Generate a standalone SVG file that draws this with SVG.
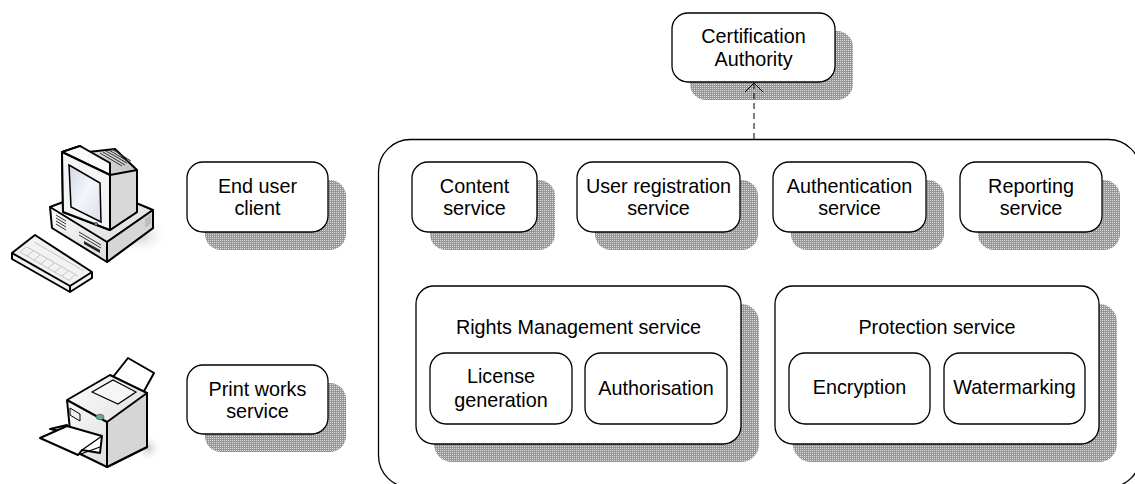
<svg xmlns="http://www.w3.org/2000/svg" width="1135" height="484" viewBox="0 0 1135 484">
  <defs>
    <!-- halftone fill used for drop shadows -->
    <pattern id="dots" width="2" height="2" patternUnits="userSpaceOnUse">
      <rect width="2" height="2" fill="#969696"/>
      <rect width="1" height="1" fill="#e0e0e0"/>
    </pattern>
    <!-- open "V" arrowhead, tip on the path end -->
    <marker id="openArrow" viewBox="0 0 20 20" refX="10" refY="10" markerWidth="20" markerHeight="20" markerUnits="userSpaceOnUse" orient="auto">
      <polyline points="1,1 10,10 1,19" fill="none" stroke="#000" stroke-width="1"/>
    </marker>
    <linearGradient id="bodyGrad" x1="0" y1="0" x2="1" y2="1">
      <stop offset="0" stop-color="#ffffff"/>
      <stop offset="1" stop-color="#d4d4d4"/>
    </linearGradient>
    <linearGradient id="sideGrad" x1="0" y1="0" x2="1" y2="0">
      <stop offset="0" stop-color="#e8e8e8"/>
      <stop offset="1" stop-color="#c4c4c4"/>
    </linearGradient>
    <linearGradient id="screenGrad" x1="0" y1="0" x2="1" y2="1">
      <stop offset="0" stop-color="#cfd6e6"/>
      <stop offset="0.5" stop-color="#f4f6fa"/>
      <stop offset="1" stop-color="#d8deea"/>
    </linearGradient>
    <radialGradient id="floorShadow">
      <stop offset="0" stop-color="#c8c8c8"/>
      <stop offset="1" stop-color="#ffffff" stop-opacity="0"/>
    </radialGradient>
  </defs>
  <style>
    .box { fill: #fff; stroke: #000; stroke-width: 1.3; }
    .shadow { fill: url(#dots); }
    .lbl { font-family: "Liberation Sans", Arial, sans-serif; font-size: 19.8px; fill: #000; text-anchor: middle; }
    .ico { stroke: #000; stroke-width: 2; stroke-linejoin: round; }
  </style>

  <rect width="1135" height="484" fill="#fff"/>

  <!-- workstation icon -->
  <g id="computer">
    <ellipse cx="140" cy="235" rx="28" ry="20" fill="url(#floorShadow)"/>
    <!-- keyboard -->
    <path class="ico" d="M12,253 L35,235 L92,272 L92,278 L70,292 L12,259 Z" fill="#f2f2f2"/>
    <path class="ico" d="M12,253 L70,286 L92,272 M70,286 L70,292" fill="none"/>
    <g stroke="#b8b8b8" stroke-width="0.8" fill="none">
      <path d="M20,252 L70,281 M27,247 L78,276 M34,242 L84,271"/>
      <path d="M26,247 L20,252 M33,251 L27,256 M40,255 L34,260 M47,259 L41,264 M54,263 L48,268 M61,267 L55,272 M68,271 L62,276 M75,275 L69,280"/>
    </g>
    <!-- base unit -->
    <path class="ico" d="M50,207 L100,188 L153,210 L153,228 L107,262 L52,228 Z" fill="url(#bodyGrad)"/>
    <path class="ico" d="M50,207 L107,242 L153,210 M107,242 L107,262" fill="none"/>
    <path d="M107,242 L153,210 L153,228 L107,262 Z" fill="#d6d6d6" stroke="#000" stroke-width="2" stroke-linejoin="round"/>
    <g stroke="#333" stroke-width="1">
      <path d="M56,215 L66,221 M56,218 L66,224 M56,221 L66,227 M56,224 L66,230"/>
      <path d="M79,232 L101,245 M79,235 L101,248"/>
    </g>
    <path d="M84,241 L100,250 L100,253 L84,244 Z" fill="#222"/>
    <path d="M146,218 L146,227 M148,217 L148,226 M150,215 L150,224" stroke="#999" stroke-width="0.8"/>
    <!-- monitor housing -->
    <path class="ico" d="M62,152 L80,146 L88,152 L115,149 L137,170 L137,212 L110,230 L63,212 Z" fill="url(#sideGrad)"/>
    <path class="ico" d="M62,152 L80,146 L110,163 L110,175 Z" fill="#fafafa"/>
    <path d="M110,175 L137,170 L137,212 L110,230 Z" fill="#d8d8d8" stroke="#000" stroke-width="2" stroke-linejoin="round"/>
    <g stroke="#333" stroke-width="1">
      <path d="M100,153 L122,166 M103,152 L125,165 M106,151 L127,163 M109,150 L129,162 M112,149 L131,161"/>
    </g>
    <!-- bezel and screen -->
    <path class="ico" d="M62,152 L110,175 L110,230 L63,212 Z" fill="#f4f4f4"/>
    <path d="M69,165 L100,183 L101,222 L71,207 Z" fill="url(#screenGrad)" stroke="#000" stroke-width="1.5"/>
    <circle cx="96" cy="224" r="1.6" fill="#6a9" stroke="#000" stroke-width="0.6"/>
  </g>

  <!-- printer icon -->
  <g id="printer">
    <ellipse cx="148" cy="448" rx="14" ry="14" fill="url(#floorShadow)"/>
    <!-- paper on top -->
    <path class="ico" d="M113,377 L128,358 L154,373 L138,402 Z" fill="#fff"/>
    <!-- body -->
    <path class="ico" d="M67,400 L110,375 L147,393 L147,447 L107,467 L72,450 Z" fill="url(#bodyGrad)"/>
    <path d="M107,422 L147,393 L147,447 L107,467 Z" fill="#d6d6d6" stroke="#000" stroke-width="2" stroke-linejoin="round"/>
    <path class="ico" d="M67,400 L107,422 L107,467" fill="none"/>
    <path d="M92,392 L113,380 L136,392 L118,404 Z" fill="#f6f6f6" stroke="#000" stroke-width="1.2"/>
    <path d="M70,408 L80,414 L80,421 L70,415 Z" fill="#eee" stroke="#000" stroke-width="1"/>
    <ellipse cx="100" cy="417" rx="4" ry="2.8" fill="#5fb08f" stroke="#444" stroke-width="0.6"/>
    <!-- output tray -->
    <path class="ico" d="M50,429 L67,425 L70,433 Z" fill="#f0f0f0"/>
    <path class="ico" d="M40,438 L67,426 L102,436 L100,453 L82,450 L78,455 Z" fill="#fff"/>
    <path d="M78,455 L100,447 M82,450 L102,436" stroke="#000" stroke-width="1.3" fill="none"/>
  </g>

  <!-- drop shadows -->
  <g id="shadows">
    <rect class="shadow" x="690" y="31" width="163" height="69" rx="16"/>
    <rect class="shadow" x="205" y="180" width="141" height="70" rx="16"/>
    <rect class="shadow" x="205" y="383" width="141" height="69" rx="16"/>
    <rect class="shadow" x="430" y="180" width="125" height="70" rx="16"/>
    <rect class="shadow" x="595" y="180" width="163" height="70" rx="16"/>
    <rect class="shadow" x="791" y="180" width="153" height="70" rx="16"/>
    <rect class="shadow" x="978" y="180" width="142" height="70" rx="16"/>
    <rect class="shadow" x="434" y="304" width="325" height="158" rx="18"/>
    <rect class="shadow" x="793" y="304" width="324" height="158" rx="18"/>
  </g>

  <!-- platform container -->
  <g id="platform">
    <rect x="378.5" y="139.5" width="762" height="348" rx="32" fill="none" stroke="#000" stroke-width="1.3"/>
  </g>

  <g id="connectors">
    <line x1="754" y1="139" x2="754" y2="83" stroke="#000" stroke-width="1" stroke-dasharray="6,4" marker-end="url(#openArrow)"/>
  </g>

  <g id="certification-authority">
    <rect class="box" x="672" y="13" width="163" height="69" rx="16"/>
    <text class="lbl" x="753.5" y="43">Certification</text>
    <text class="lbl" x="753.5" y="66">Authority</text>
  </g>

  <g id="end-user-client">
    <rect class="box" x="187" y="162" width="141" height="70" rx="16"/>
    <text class="lbl" x="257.5" y="192.5">End user</text>
    <text class="lbl" x="257.5" y="215">client</text>
  </g>

  <g id="print-works-service">
    <rect class="box" x="187" y="365" width="141" height="69" rx="16"/>
    <text class="lbl" x="257.5" y="395.5">Print works</text>
    <text class="lbl" x="257.5" y="418">service</text>
  </g>

  <g id="content-service">
    <rect class="box" x="412" y="162" width="125" height="70" rx="16"/>
    <text class="lbl" x="474.5" y="192.5">Content</text>
    <text class="lbl" x="474.5" y="215">service</text>
  </g>

  <g id="user-registration-service">
    <rect class="box" x="577" y="162" width="163" height="70" rx="16"/>
    <text class="lbl" x="658.5" y="192.5">User registration</text>
    <text class="lbl" x="658.5" y="215">service</text>
  </g>

  <g id="authentication-service">
    <rect class="box" x="773" y="162" width="153" height="70" rx="16"/>
    <text class="lbl" x="849.5" y="192.5">Authentication</text>
    <text class="lbl" x="849.5" y="215">service</text>
  </g>

  <g id="reporting-service">
    <rect class="box" x="960" y="162" width="142" height="70" rx="16"/>
    <text class="lbl" x="1031" y="192.5">Reporting</text>
    <text class="lbl" x="1031" y="215">service</text>
  </g>

  <g id="rights-management-service">
    <rect class="box" x="416" y="286" width="325" height="158" rx="18"/>
    <text class="lbl" x="578.5" y="334">Rights Management service</text>
    <g id="license-generation">
      <rect class="box" x="430" y="353" width="142" height="71" rx="16"/>
      <text class="lbl" x="501" y="383">License</text>
      <text class="lbl" x="501" y="406.5">generation</text>
    </g>
    <g id="authorisation">
      <rect class="box" x="585" y="353" width="142" height="71" rx="16"/>
      <text class="lbl" x="656" y="395">Authorisation</text>
    </g>
  </g>

  <g id="protection-service">
    <rect class="box" x="775" y="286" width="324" height="158" rx="18"/>
    <text class="lbl" x="937" y="334">Protection service</text>
    <g id="encryption">
      <rect class="box" x="789" y="353" width="141" height="71" rx="16"/>
      <text class="lbl" x="859.5" y="394">Encryption</text>
    </g>
    <g id="watermarking">
      <rect class="box" x="944" y="353" width="141" height="71" rx="16"/>
      <text class="lbl" x="1014.5" y="394">Watermarking</text>
    </g>
  </g>
</svg>
